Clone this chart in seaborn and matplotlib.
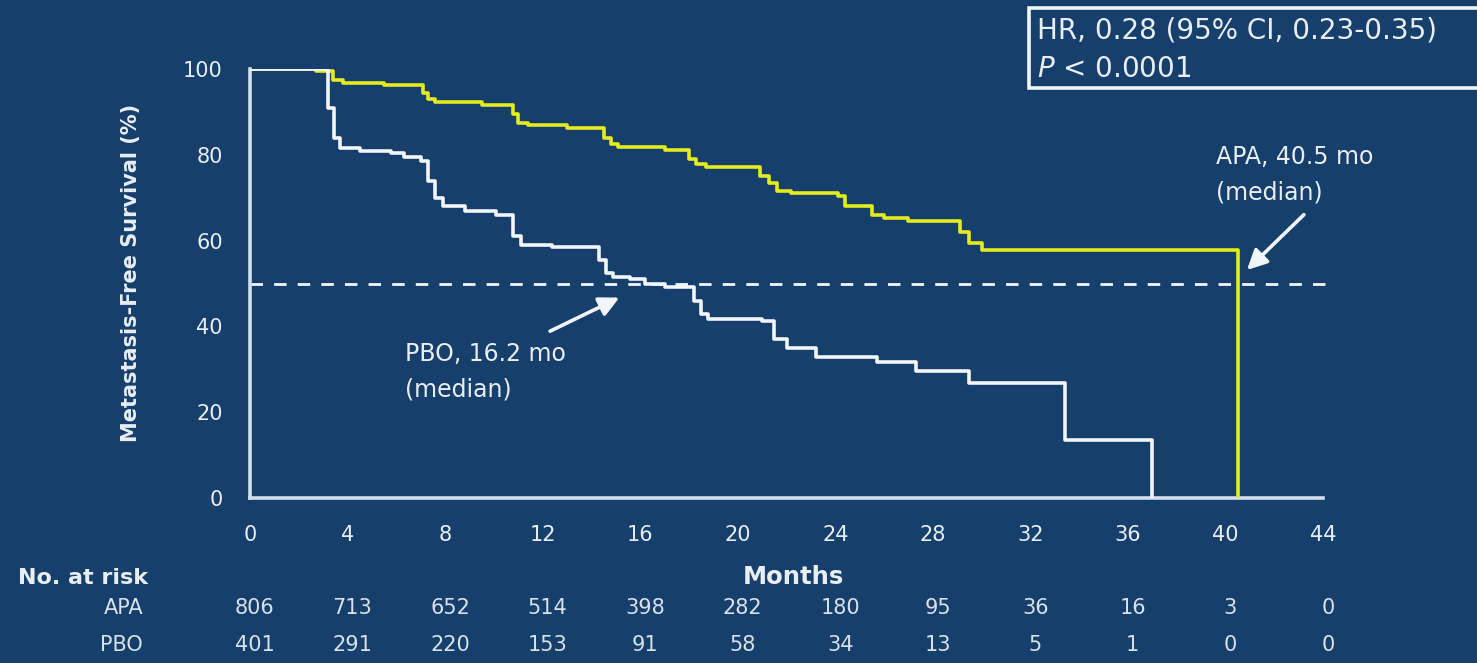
import numpy as np
import pandas as pd
import matplotlib
matplotlib.use("Agg")
import matplotlib.pyplot as plt
from matplotlib.lines import Line2D
import seaborn as sns

# Kaplan-Meier step curves: month of each step and survival (%) from that month on
apa_months = [0, 2.7, 3.4, 3.8, 5.5, 7.1, 7.3, 7.6, 9.5, 10.8, 11.0, 11.4, 13.0, 14.5, 14.8, 15.1,
              17.0, 18.0, 18.3, 18.7, 20.9, 21.3, 21.6, 22.2, 24.1, 24.4, 25.5, 26.0, 27.0, 29.1,
              29.5, 30.0, 40.5]
apa_surv = [100, 99.5, 97.5, 96.7, 96.2, 94.5, 93.0, 92.2, 91.7, 89.5, 87.5, 86.9, 86.2, 84.0, 82.5, 81.8,
            81.2, 79.0, 77.8, 77.2, 75.0, 73.5, 71.6, 71.0, 70.3, 68.0, 66.0, 65.2, 64.6, 62.0,
            59.5, 57.8, 0]

pbo_months = [0, 3.2, 3.45, 3.7, 4.5, 5.8, 6.3, 7.0, 7.3, 7.6, 7.9, 8.8, 10.1, 10.8, 11.1, 12.4,
              14.3, 14.6, 14.9, 15.6, 16.2, 17.0, 18.2, 18.5, 18.8, 21.0, 21.5, 22.0, 23.2, 25.7,
              27.3, 29.5, 33.4, 37.0]
pbo_surv = [100, 91.0, 84.0, 81.5, 81.0, 80.5, 79.6, 78.5, 74.0, 70.0, 68.0, 66.8, 66.0, 61.0, 59.0, 58.4,
            55.5, 52.5, 51.6, 51.0, 50.0, 49.3, 46.0, 43.0, 41.8, 41.2, 37.0, 35.0, 32.9, 31.7,
            29.5, 26.8, 13.5, 0]

x_ticks = [0, 4, 8, 12, 16, 20, 24, 28, 32, 36, 40, 44]
y_ticks = [0, 20, 40, 60, 80, 100]
risk_apa = [806, 713, 652, 514, 398, 282, 180, 95, 36, 16, 3, 0]
risk_pbo = [401, 291, 220, 153, 91, 58, 34, 13, 5, 1, 0, 0]

median_apa = 40.5
median_pbo = 16.2

BG = "#163F6C"
YELLOW = "#E4EC1E"
WHITE = "#F2F5FA"
AXIS = "#D3DFEC"
TEXT = "#E9EEF5"
TABLE = "#D9E1EA"

sns.set_theme(style="dark")
plt.rcParams["font.family"] = ["DejaVu Sans"]
plt.rcParams["axes.facecolor"] = BG
plt.rcParams["figure.facecolor"] = BG

df = pd.concat([
    pd.DataFrame({"month": apa_months, "surv": apa_surv, "arm": "APA"}),
    pd.DataFrame({"month": pbo_months, "surv": pbo_surv, "arm": "PBO"}),
], ignore_index=True)

fig = plt.figure(figsize=(14.77, 6.63), dpi=100)
ax = fig.add_axes([250 / 1477, 1 - 498 / 663, 1073 / 1477, 429 / 663])
ax.set_facecolor(BG)

# median reference line
ax.plot([0, 44.5], [50, 50], color=WHITE, lw=2, ls=(0, (4.5, 4)), clip_on=False, zorder=1)

sns.lineplot(data=df, x="month", y="surv", hue="arm", palette={"APA": YELLOW, "PBO": WHITE},
             estimator=None, sort=True, drawstyle="steps-post", linewidth=2.6,
             legend=False, ax=ax, zorder=3)

ax.set_xlim(0, 44)
ax.set_ylim(0, 100)
ax.set_xticks(x_ticks)
ax.set_yticks(y_ticks)
ax.grid(False)
for side in ["top", "right"]:
    ax.spines[side].set_visible(False)
for side in ["left", "bottom"]:
    ax.spines[side].set_color(AXIS)
    ax.spines[side].set_linewidth(2.6)
ax.tick_params(axis="both", direction="out", length=13.5, width=2.4, color=AXIS,
               labelcolor=TEXT, labelsize=15, pad=6)

ax.set_xlabel("")
ax.set_ylabel("Metastasis-Free Survival (%)", color=TEXT, fontsize=15, fontweight="bold")
ax.yaxis.set_label_coords(-0.1016, 0.525)

# median annotations
arrow_style = dict(arrowstyle="-|>,head_length=1.0,head_width=0.5", color=WHITE, lw=2.6)
ax.annotate("", xy=(40.8, 52.7), xytext=(43.3, 66.5), arrowprops=arrow_style,
            annotation_clip=False)
ax.text(39.6, 75.4, f"APA, {median_apa} mo\n(median)", color=TEXT, fontsize=17,
        ha="left", va="center", linespacing=1.6)

ax.annotate("", xy=(15.25, 47.0), xytext=(12.2, 38.6), arrowprops=arrow_style)
ax.text(6.35, 29.5, f"PBO, {median_pbo} mo\n(median)", color=TEXT, fontsize=17,
        ha="left", va="center", linespacing=1.6)

# hazard ratio box (open towards the right edge of the figure)
bx0, bx1 = 1029 / 1477, 1.02
by0, by1 = 1 - 88 / 663, 1 - 8 / 663
fig.add_artist(Line2D([bx1, bx0, bx0, bx1], [by1, by1, by0, by0], transform=fig.transFigure,
                      color=WHITE, lw=2.6, solid_joinstyle="miter", solid_capstyle="butt"))
fig.text(1037 / 1477, 1 - 30 / 663, "HR, 0.28 (95% CI, 0.23-0.35)", color=TEXT, fontsize=20,
         ha="left", va="center")
fig.text(1037 / 1477, 1 - 69 / 663, r"$P$ < 0.0001", color=TEXT, fontsize=20,
         ha="left", va="center", math_fontfamily="dejavusans")

# axis title and number-at-risk table
fig.text(793 / 1477, 1 - 577 / 663, "Months", color=TEXT, fontsize=17.5, fontweight="bold",
         ha="center", va="center")
fig.text(18 / 1477, 1 - 578 / 663, "No. at risk", color=TEXT, fontsize=16, fontweight="bold",
         ha="left", va="center")
row_y = {"APA": 1 - 608 / 663, "PBO": 1 - 645 / 663}
trans = ax.get_xaxis_transform()
for arm, counts in [("APA", risk_apa), ("PBO", risk_pbo)]:
    fig.text(143 / 1477, row_y[arm], arm, color=TABLE, fontsize=15, ha="right", va="center")
    y_ax = (row_y[arm] - (1 - 498 / 663)) / (429 / 663)
    for m, n in zip(x_ticks, counts):
        ax.text(m + 0.2, y_ax, str(n), transform=trans, color=TABLE, fontsize=15,
                ha="center", va="center", clip_on=False)

fig.savefig("out.png", dpi=100, facecolor=BG)
